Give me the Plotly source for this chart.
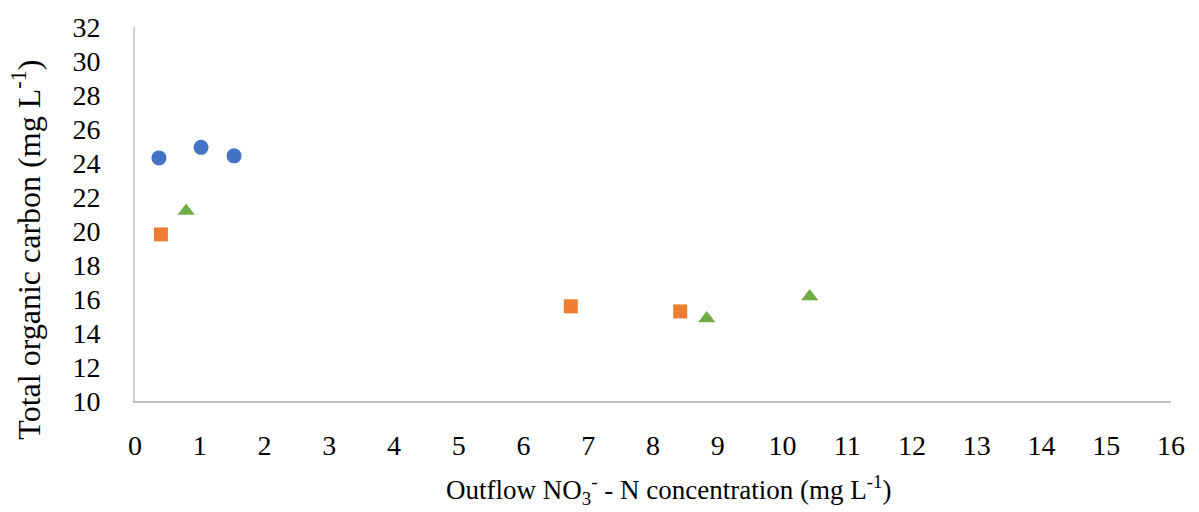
import plotly.graph_objects as go

# Data
blue_x = [0.37, 1.02, 1.53]
blue_y = [24.3, 24.92, 24.42]
orange_x = [0.40, 6.73, 8.42]
orange_y = [19.8, 15.57, 15.27]
green_x = [0.79, 8.83, 10.42]
green_y = [21.18, 14.86, 16.15]

x_ticks = list(range(0, 17))
y_ticks = list(range(10, 33, 2))

FONT = "Liberation Serif, Times New Roman, serif"

fig = go.Figure()
fig.add_trace(go.Scatter(x=blue_x, y=blue_y, mode="markers",
                         marker=dict(symbol="circle", size=15, color="#4472C4")))
fig.add_trace(go.Scatter(x=orange_x, y=orange_y, mode="markers",
                         marker=dict(symbol="square", size=14, color="#ED7D31")))
fig.add_trace(go.Scatter(x=green_x, y=green_y, mode="markers",
                         marker=dict(symbol="triangle-up", size=15, color="#70AD47")))

fig.update_layout(
    width=1199, height=512,
    margin=dict(l=135, r=28, t=18, b=111),
    plot_bgcolor="white", paper_bgcolor="white",
    showlegend=False,
    font=dict(family=FONT, size=28, color="black"),
    xaxis=dict(range=[0, 16], tickvals=x_ticks, showgrid=False, zeroline=False,
               showline=True, linecolor="#BFBFBF", linewidth=2,
               ticks="", ticklabelstandoff=18,
               tickfont=dict(family=FONT, size=28, color="black")),
    yaxis=dict(range=[10, 32], tickvals=y_ticks, showgrid=False, zeroline=False,
               showline=True, linecolor="#D0D0D0", linewidth=2,
               ticks="", ticklabelstandoff=27,
               tickfont=dict(family=FONT, size=28, color="black")),
    annotations=[
        dict(text="Outflow NO<sub>3</sub><sup>-</sup> - N concentration (mg L<sup>-1</sup>)",
             xref="paper", yref="paper", x=(668 - 135) / (1171 - 135), y=-(492 - 401) / 383,
             xanchor="center", yanchor="middle", showarrow=False,
             font=dict(family=FONT, size=27, color="black")),
        dict(text="Total organic carbon (mg L<sup>-1</sup>)",
             xref="paper", yref="paper", x=-(135 - 26) / (1171 - 135), y=(401 - 246) / 383,
             xanchor="center", yanchor="middle", showarrow=False, textangle=-90,
             font=dict(family=FONT, size=32, color="black")),
    ],
)

fig.write_html("out.html")
